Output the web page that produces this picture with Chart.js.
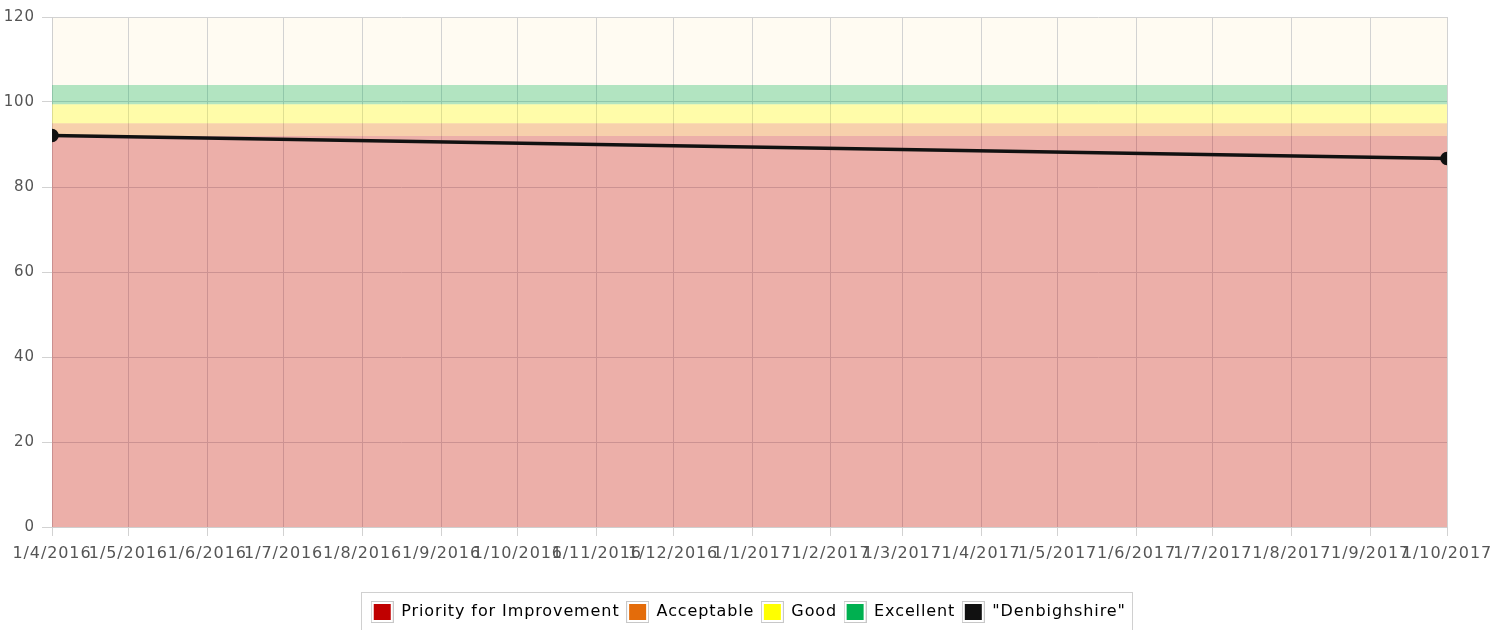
<!DOCTYPE html>
<html>
<head>
<meta charset="utf-8">
<script src="https://cdn.jsdelivr.net/npm/chart.js@4.4.1/dist/chart.umd.min.js"></script>
<style>
html,body{margin:0;padding:0;background:#fff;}
#wrap{width:1507px;height:630px;position:relative;}
</style>
</head>
<body>
<div id="wrap"><canvas id="c" width="1507" height="630"></canvas></div>
<script>
// ---- data ----
const tickDates = ['2016-04-01','2016-05-01','2016-06-01','2016-07-01','2016-08-01','2016-09-01','2016-10-01','2016-11-01','2016-12-01','2017-01-01','2017-02-01','2017-03-01','2017-04-01','2017-05-01','2017-06-01','2017-07-01','2017-08-01','2017-09-01','2017-10-01'];
const tickLabels = ['1/4/2016','1/5/2016','1/6/2016','1/7/2016','1/8/2016','1/9/2016','1/10/2016','1/11/2016','1/12/2016','1/1/2017','1/2/2017','1/3/2017','1/4/2017','1/5/2017','1/6/2017','1/7/2017','1/8/2017','1/9/2017','1/10/2017'];
const bandNames = ['Priority for Improvement','Acceptable','Good','Excellent'];
const bandLower = [0, 92, 95, 99.5];
const bandUpper = [92, 95, 99.5, 104];
const seriesName = '"Denbighshire"';
const seriesDates = ['2016-04-01','2017-10-01'];
const seriesValues = [92.1, 86.7];

// ---- styles ----
const bandSolid = ['#c00000','#e46c0a','#ffff00','#00b050'];
const bandFill = ['rgba(192,0,0,0.3)','rgba(228,108,10,0.3)','rgba(255,255,0,0.3)','rgba(0,176,80,0.3)'];
const lineColor = '#111111';

function dayOf(s){
  const p = s.split('-').map(Number);
  return (Date.UTC(p[0],p[1]-1,p[2]) - Date.UTC(2016,3,1)) / 864e5;
}
const xStart = dayOf(tickDates[0]);
const xEnd = dayOf(tickDates[tickDates.length-1]);

function legendSwatch(color){
  const c = document.createElement('canvas');
  c.width = 23; c.height = 22;
  const g = c.getContext('2d');
  g.fillStyle = '#ffffff'; g.fillRect(0,0,23,22);
  g.strokeStyle = '#c8c8c8'; g.lineWidth = 1; g.strokeRect(0.5,0.5,22,21);
  g.fillStyle = color; g.fillRect(3,3,17,16);
  return c;
}

const datasets = bandNames.map((n,i)=>({
  label: n,
  data: [{x:xStart,y:bandUpper[i]},{x:xEnd,y:bandUpper[i]}],
  borderWidth: 0,
  borderColor: 'rgba(0,0,0,0)',
  backgroundColor: bandFill[i],
  pointRadius: 0,
  pointHoverRadius: 0,
  fill: {value: bandLower[i]},
  order: 10 - i
}));
datasets.push({
  label: seriesName,
  data: seriesDates.map((d,i)=>({x:dayOf(d), y:seriesValues[i]})),
  borderColor: lineColor,
  backgroundColor: lineColor,
  borderWidth: 3.5,
  pointRadius: 5,
  pointBackgroundColor: lineColor,
  pointBorderColor: lineColor,
  fill: false,
  order: 0
});
const legendColors = bandSolid.concat([lineColor]);
const swatches = legendColors.map(legendSwatch);

const bgPlugin = {
  id:'bg',
  beforeUpdate(chart){ chart.ctx.letterSpacing = '0.9px'; },
  beforeDraw(chart){
    const a = chart.chartArea, ctx = chart.ctx;
    ctx.letterSpacing = '0.9px';
    ctx.save(); ctx.fillStyle = '#fffbf2';
    ctx.fillRect(a.left,a.top,a.right-a.left,a.bottom-a.top);
    ctx.restore();
  },
  afterDraw(chart){
    const l = chart.legend, ctx = chart.ctx;
    const items = l.legendHitBoxes;
    if(!items || !items.length) return;
    const last = items[items.length-1];
    const x0 = Math.round(items[0].left) - 10, x1 = Math.round(last.left + last.width) + 6;
    ctx.save(); ctx.strokeStyle = '#d0d0d0'; ctx.lineWidth = 1;
    ctx.strokeRect(x0+0.5, 592.5, x1-x0, 60);
    ctx.restore();
  }
};

Chart.defaults.font.family = '"DejaVu Sans", Verdana, sans-serif';
new Chart(document.getElementById('c'), {
  type:'line',
  data:{datasets},
  options:{
    responsive:false,
    animation:false,
    layout:{padding:{top:17,right:10,left:0,bottom:0}},
    plugins:{
      tooltip:{enabled:false},
      legend:{
        position:'bottom',
        labels:{
          usePointStyle:true, pointStyleWidth:22, boxHeight:16, padding:7,
          color:'#555',
          font:{size:16},
          generateLabels(chart){
            return chart.data.datasets.map((d,i)=>({
              text:d.label, pointStyle:swatches[i], fillStyle:legendColors[i], strokeStyle:'#cfcfcf', lineWidth:1,
              hidden:false, datasetIndex:i
            }));
          }
        }
      }
    },
    scales:{
      x:{
        type:'linear', min:xStart, max:xEnd,
        afterBuildTicks(scale){ scale.ticks = tickDates.map(d=>({value:dayOf(d)})); },
        afterFit(scale){ scale.height = 70; },
        ticks:{
          autoSkip:false, maxRotation:0, minRotation:0, color:'#555', font:{size:16}, padding:8,
          callback(v,i){ return tickLabels[i]; }
        },
        grid:{color:'#d2d2d2', tickLength:9, drawOnChartArea:true},
        border:{color:'#cfcfcf'}
      },
      y:{
        min:0, max:120,
        afterFit(scale){ scale.width = 52; },
        ticks:{stepSize:20, color:'#555', font:{size:15}, padding:7},
        grid:{color:'#d2d2d2', tickLength:10},
        border:{color:'#cfcfcf'}
      },
      yRight:{
        position:'right', min:0, max:120,
        afterFit(scale){ scale.width = 50; },
        ticks:{display:false},
        grid:{display:false, drawOnChartArea:false},
        border:{display:false}
      }
    }
  },
  plugins:[bgPlugin]
});
</script>
</body>
</html>
